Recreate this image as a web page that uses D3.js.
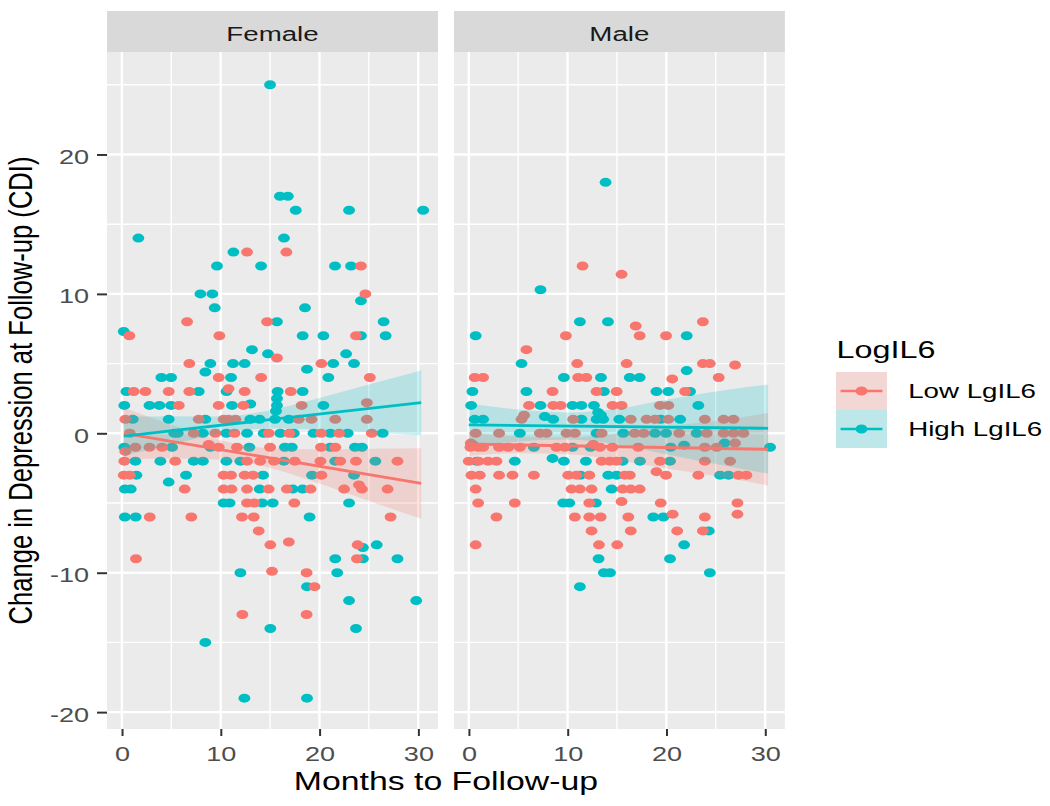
<!DOCTYPE html>
<html><head><meta charset="utf-8">
<script src="https://cdn.jsdelivr.net/npm/d3@7"></script>
<style>html,body{margin:0;padding:0;background:#fff;} svg{display:block;}</style>
</head><body><svg id="chart"></svg>
<script>
// ---------- data ----------
const facets = ["Female", "Male"];
const groups = ["Low LgIL6", "High LgIL6"];
const groupColors = ["#F8766D", "#00BFC4"];
const legendTitle = "LogIL6";
const xTitle = "Months to Follow-up";
const yTitle = "Change in Depression at Follow-up (CDI)";
const xTicks = [0, 10, 20, 30];
const yTicks = [-20, -10, 0, 10, 20];
const xMinor = [5, 15, 25];
const yMinor = [-15, -5, 5, 15, 25];

// [months, change]
const femaleLow = [[12.67,13],[16.65,13],[24.2,12],[24.65,10],[6.6,8],[14.7,8],[0.76,7],[9.87,7],[23.7,7],[15.7,5.4],[6.83,5],[20.2,5],[9.8,4],[14.1,4],[25.1,4],[1.2,3],[2.38,3],[4.74,3],[6.83,3],[10.8,3.2],[12.43,3],[17.1,3],[5.76,2],[9.8,2],[12.3,2],[18.2,2],[24.8,2.2],[0.35,1],[7.78,1],[10.3,1],[10.8,1],[11.5,1],[17.9,1],[19.2,1],[21.6,1],[24.8,1],[0.8,0],[7.27,0],[9.46,0],[11.4,0],[14.86,0],[16.95,0],[20.16,0],[22.0,0],[25.3,0],[0.35,-1.3],[1.37,-1],[2.8,-1],[4.07,-1],[8.79,-0.8],[9.8,-1],[11.65,-1],[15.0,-1],[20.16,-1],[21.6,-1],[0.25,-2],[5.4,-2],[12.67,-2],[14.0,-2],[15.4,-2],[17.5,-2],[20.1,-2],[22.1,-2],[23.7,-2],[27.9,-2],[0.2,-3],[0.8,-3],[10.3,-3],[11.05,-3],[12.43,-3],[13.28,-3],[20.2,-3],[24.0,-3.7],[6.36,-4],[10.3,-4],[11.1,-4],[12.67,-4],[14.86,-4],[16.7,-4],[19.1,-4],[22.5,-4],[24.3,-4],[26.9,-4],[12.67,-5],[13.4,-5],[17.46,-5],[2.82,-6],[7.03,-6],[12.16,-6],[13.35,-6],[27.2,-6],[13.85,-7],[15.03,-8],[16.9,-7.8],[23.87,-8],[1.43,-9],[23.8,-9],[15.2,-9.9],[18.7,-10],[19.5,-11],[12.2,-13],[18.7,-13]];

const femaleHigh = [[15.0,25],[16.0,17],[16.8,17],[17.6,16],[23.0,16],[30.5,16],[1.67,14],[16.41,14],[11.29,13],[9.63,12],[14.09,12],[21.58,12],[23.2,12],[7.95,10],[9.16,10],[24.2,9.5],[9.4,9],[18.54,9],[15.7,8],[26.5,8],[0.19,7.3],[18.3,7],[20.4,7],[24.2,7],[26.7,7],[13.17,6],[14.79,5.7],[22.7,5.7],[8.96,5],[11.25,5],[12.43,5],[21.4,5],[23.5,5],[18.74,4.6],[8.45,4.4],[4.0,4],[4.98,4],[11.05,4],[20.9,4],[0.46,3],[7.78,3],[10.6,3],[15.77,3],[18.3,3],[0.25,2],[2.8,2],[3.8,2],[4.98,2],[11.15,2],[13.0,2.1],[15.7,2.5],[15.7,2],[15.6,1.6],[20.4,2],[1.1,1],[4.74,1],[8.45,1],[13.0,1],[13.95,1],[15.5,1],[16.9,1],[5.3,0],[5.65,0],[8.2,0],[10.58,0],[12.67,0],[14.36,0],[16.04,0],[17.4,0],[19.4,0],[21.1,0],[22.86,0],[26.4,0],[0.25,-1],[5.08,-1],[8.96,-1],[12.9,-1],[16.5,-1],[17.2,-1],[21.1,-1],[23.6,-1],[24.3,-1],[1.37,-2],[3.9,-2],[7.27,-2],[8.2,-2],[10.58,-2],[12.0,-2],[16.4,-2],[21.6,-2],[25.66,-2],[1.47,-3],[6.5,-3],[14.29,-3],[19.25,-3],[23.5,-3],[4.74,-3.5],[0.3,-4],[0.9,-4],[13.95,-4],[17.3,-4],[18.3,-4],[10.3,-5],[10.9,-5],[14.2,-5],[15.27,-5],[23.0,-5],[0.3,-6],[1.4,-6],[19.0,-6],[24.4,-8.2],[25.8,-8],[21.6,-9],[24.4,-9],[27.9,-9],[12.0,-10],[21.8,-10],[18.74,-11],[23.0,-12],[29.8,-12],[15.03,-14],[23.7,-14],[8.45,-15],[12.4,-19],[18.74,-19]];

const maleLow = [[11.52,12],[15.47,11.4],[23.7,8],[16.9,7.7],[9.83,7],[17.3,7],[19.97,7],[5.84,6],[10.98,5],[15.98,5],[23.7,5],[24.4,5],[26.96,4.9],[0.6,4],[1.45,4],[11.08,4],[11.9,4],[20.6,3.9],[25.3,4],[8.48,3],[12.94,3],[14.97,3],[21.9,3],[6.1,2],[8.55,2],[9.3,2],[14.56,2],[15.47,2],[19.36,2],[20.2,2],[5.34,1],[5.6,1.3],[10.57,1],[16.4,1],[18.0,1],[18.85,1],[20.2,1],[23.9,1],[25.8,1],[26.8,1],[0.7,0],[3.07,0],[7.2,0],[7.87,0],[9.9,0],[10.74,0],[13.45,0],[16.8,0],[17.7,0],[21.3,0],[24.09,0],[25.8,0],[26.8,0],[27.8,0],[0.2,-0.7],[0.17,-1],[0.95,-1],[1.45,-1],[3.07,-1],[3.99,-1],[5.17,-1],[8.88,-1],[9.73,-1],[12.6,-0.8],[13.28,-1],[14.53,-1],[17.16,-1],[23.9,-1],[25.1,-1],[26.96,-0.7],[0.0,-2],[1.0,-2],[1.96,-2],[2.8,-2],[13.45,-2],[14.29,-2],[14.97,-2],[19.36,-2],[23.9,-2],[26.45,-2],[0.27,-3],[1.11,-3],[3.07,-3],[4.43,-3],[6.59,-3],[10.07,-3],[10.9,-3],[12.2,-3],[15.8,-3],[16.3,-3],[19.0,-2.75],[19.97,-3],[23.24,-3],[27.3,-3],[28.1,-3],[0.7,-4],[10.4,-4],[11.25,-4],[12.43,-4],[15.57,-4],[16.4,-4],[17.3,-4],[0.95,-5],[4.66,-5],[12.2,-5],[15.47,-4.9],[19.43,-5],[27.2,-5],[2.8,-6],[10.74,-6],[12.2,-6],[13.35,-6],[16.15,-6],[20.64,-5.8],[23.9,-6],[27.2,-5.8],[12.43,-7],[16.4,-7],[21.1,-7],[23.7,-7],[0.7,-8],[13.18,-8],[15.03,-8]];

const maleHigh = [[13.85,18],[7.26,10.3],[11.25,8],[14.09,8],[0.7,7],[22.06,7],[5.34,5],[22.06,4.5],[9.63,4],[13.38,4],[16.3,4],[17.3,4],[0.37,3],[5.84,3],[13.68,3],[19.0,3],[20.2,3],[22.4,3],[0.24,2],[7.26,2],[10.5,2],[11.4,2],[12.67,2],[23.24,2],[7.7,1.2],[13.38,1.3],[13.1,1.5],[0.6,1],[1.45,1],[8.55,1],[11.4,1],[12.94,1],[13.6,1],[15.24,1],[19.43,1],[21.4,1],[5.17,0],[12.94,0],[15.64,0],[18.85,0],[19.97,0],[23.07,0],[0.37,-0.8],[6.59,-1],[10.5,-1],[12.33,-1],[20.44,-1],[21.8,-0.85],[25.9,-0.7],[30.5,-1],[0.8,-2],[4.66,-2],[8.48,-1.8],[9.63,-2],[11.86,-2],[15.57,-2],[17.33,-2],[20.37,-2],[11.3,-3],[14.12,-3],[14.97,-3],[25.44,-3],[26.3,-3],[14.46,-4],[9.56,-5],[10.17,-5],[12.87,-5],[18.68,-6],[19.7,-6],[24.3,-7],[21.8,-8],[13.14,-9],[20.37,-9],[13.68,-10],[14.3,-10],[24.4,-10],[11.25,-11]];

// fitted lines [months, change]
const femaleLowLine = [[0.2, 0.0], [30.3, -3.6]];
const femaleHighLine = [[0.2, -0.2], [30.3, 2.2]];
const maleLowLine = [[0.0, -0.77], [30.3, -1.15]];
const maleHighLine = [[0.0, 0.6], [30.3, 0.36]];
// confidence bands [months, lower, upper]
const femaleLowBand = [[0.2,-1.87,1.83],[5,-1.81,0.63],[10,-1.89,-0.49],[15,-2.48,-1.08],[20,-3.6,-1.16],[25,-4.85,-1.1],[30.3,-6.13,-1.07]];
const femaleHighBand = [[0.2,-1.6,1.2],[5,-0.83,1.23],[10,0.0,1.2],[15,0.34,1.66],[20,0.25,2.53],[25,0.08,3.5],[30.3,-0.14,4.5]];
const maleLowBand = [[0,-1.62,0.08],[5,-1.43,-0.23],[10,-1.5,-0.3],[15,-1.91,-0.01],[20,-2.52,0.48],[25,-3.06,0.9],[30.3,-3.75,1.45]];
const maleHighBand = [[0,-0.95,2.15],[5,-0.6,1.7],[10,-0.45,1.5],[15,-0.8,1.75],[20,-1.5,2.4],[25,-2.2,3.0],[30.3,-2.9,3.5]];

// ---------- layout ----------
const SX = 1.32;            // horizontal stretch of the original image
const VW = 1050 / SX;       // viewBox width
const H = 806;
const panelTop = 52, panelBottom = 729, stripTop = 11;
const panelLeft = [81.1, 343.9], panelW = 250.7;
const font = "'Liberation Sans', Arial, Helvetica, sans-serif";
const fmt = d => String(d);  // plain hyphen-minus like the original

const svg = d3.select("#chart")
  .attr("width", 1050).attr("height", H)
  .attr("viewBox", `0 0 ${VW} ${H}`)
  .attr("preserveAspectRatio", "none")
  .style("font-family", font);

const y = d3.scaleLinear().domain([-21.21, 27.35]).range([panelBottom, panelTop]);

const panelsData = [
  {name: facets[0], pts: [femaleHigh, femaleLow], lines: [femaleLowLine, femaleHighLine], bands: [femaleLowBand, femaleHighBand]},
  {name: facets[1], pts: [maleHigh, maleLow], lines: [maleLowLine, maleHighLine], bands: [maleLowBand, maleHighBand]}
];

panelsData.forEach((p, i) => {
  const x0 = panelLeft[i];
  const x = d3.scaleLinear().domain([-1.5, 32.0]).range([x0, x0 + panelW]);
  const g = svg.append("g");

  // strip
  g.append("rect").attr("x", x0).attr("y", stripTop).attr("width", panelW).attr("height", panelTop - stripTop).attr("fill", "#D9D9D9");
  g.append("text").attr("x", x0 + panelW / 2).attr("y", 41.5).attr("text-anchor", "middle")
    .attr("font-size", 21).attr("fill", "#1A1A1A").text(p.name);

  // panel background
  g.append("rect").attr("x", x0).attr("y", panelTop).attr("width", panelW).attr("height", panelBottom - panelTop).attr("fill", "#EBEBEB");

  // grid
  const grid = g.append("g").attr("stroke", "#FFFFFF");
  grid.selectAll(".ym").data(yMinor).join("line")
    .attr("x1", x0).attr("x2", x0 + panelW).attr("y1", d => y(d)).attr("y2", d => y(d))
    .attr("stroke-width", 1.4).attr("vector-effect", "non-scaling-stroke");
  grid.selectAll(".xm").data(xMinor).join("line")
    .attr("y1", panelTop).attr("y2", panelBottom).attr("x1", d => x(d)).attr("x2", d => x(d))
    .attr("stroke-width", 1.4).attr("vector-effect", "non-scaling-stroke");
  grid.selectAll(".yM").data(yTicks).join("line")
    .attr("x1", x0).attr("x2", x0 + panelW).attr("y1", d => y(d)).attr("y2", d => y(d))
    .attr("stroke-width", 2.4).attr("vector-effect", "non-scaling-stroke");
  grid.selectAll(".xM").data(xTicks).join("line")
    .attr("y1", panelTop).attr("y2", panelBottom).attr("x1", d => x(d)).attr("x2", d => x(d))
    .attr("stroke-width", 2.4).attr("vector-effect", "non-scaling-stroke");

  // points (High first, then Low)
  const colorFor = [groupColors[1], groupColors[0]];
  p.pts.forEach((arr, k) => {
    g.append("g").selectAll("circle").data(arr).join("circle")
      .attr("cx", d => x(d[0])).attr("cy", d => y(d[1])).attr("r", 4.5)
      .attr("fill", colorFor[k]);
  });

  // bands
  const area = d3.area().x(d => x(d[0])).y0(d => y(d[1])).y1(d => y(d[2])).curve(d3.curveMonotoneX);
  p.bands.forEach((b, k) => {
    g.append("path").datum(b).attr("d", area).attr("fill", groupColors[k]).attr("fill-opacity", 0.22);
  });
  // fit lines
  const line = d3.line().x(d => x(d[0])).y(d => y(d[1]));
  p.lines.forEach((l, k) => {
    g.append("path").datum(l).attr("d", line).attr("fill", "none").attr("stroke", groupColors[k])
      .attr("stroke-width", 2.8).attr("vector-effect", "non-scaling-stroke");
  });

  // x axis
  const ax = g.append("g").attr("transform", `translate(0,${panelBottom})`)
    .call(d3.axisBottom(x).tickValues(xTicks).tickSize(7).tickPadding(10).tickFormat(fmt));
  ax.select(".domain").remove();
  ax.selectAll(".tick line").attr("stroke", "#333333").attr("stroke-width", 2).attr("vector-effect", "non-scaling-stroke");
  ax.selectAll(".tick text").attr("fill", "#4D4D4D").attr("font-size", 20.5).attr("font-family", font);

  if (i === 0) {
    const ay = g.append("g").attr("transform", `translate(${x0},0)`)
      .call(d3.axisLeft(y).tickValues(yTicks).tickSize(7.6).tickPadding(6.1).tickFormat(fmt));
    ay.select(".domain").remove();
    ay.selectAll(".tick line").attr("stroke", "#333333").attr("stroke-width", 2).attr("vector-effect", "non-scaling-stroke");
    ay.selectAll(".tick text").attr("fill", "#4D4D4D").attr("font-size", 20.5).attr("font-family", font).attr("dy", "0.44em");
  }
});

// axis titles
svg.append("text").attr("x", (panelLeft[0] + panelLeft[1] + panelW) / 2).attr("y", 790)
  .attr("text-anchor", "middle").attr("font-size", 25.6).attr("fill", "#000").text(xTitle);
svg.append("text").attr("transform", `translate(24,${(panelTop + panelBottom) / 2}) rotate(-90)`)
  .attr("text-anchor", "middle").attr("font-size", 25.6).attr("fill", "#000").text(yTitle);

// legend
const lg = svg.append("g");
lg.append("text").attr("x", 633.8).attr("y", 358.3).attr("font-size", 24.5).attr("fill", "#000").text(legendTitle);
const keyX = 633.3, keyW = 38.7, keyTops = [372, 410], keyH = 38;
groups.forEach((gname, k) => {
  const ky = keyTops[k];
  lg.append("rect").attr("x", keyX).attr("y", ky).attr("width", keyW).attr("height", keyH).attr("fill", "#F2F2F2");
  lg.append("rect").attr("x", keyX).attr("y", ky).attr("width", keyW).attr("height", keyH).attr("fill", groupColors[k]).attr("fill-opacity", 0.22);
  lg.append("line").attr("x1", keyX + 3.5).attr("x2", keyX + keyW - 3.5).attr("y1", ky + keyH / 2).attr("y2", ky + keyH / 2)
    .attr("stroke", groupColors[k]).attr("stroke-width", 2.6).attr("vector-effect", "non-scaling-stroke");
  lg.append("circle").attr("cx", keyX + keyW / 2).attr("cy", ky + keyH / 2).attr("r", 4.5).attr("fill", groupColors[k]);
  lg.append("text").attr("x", 688).attr("y", ky + keyH / 2 + 7.5).attr("font-size", 21).attr("fill", "#000").text(gname);
});
</script></body></html>
